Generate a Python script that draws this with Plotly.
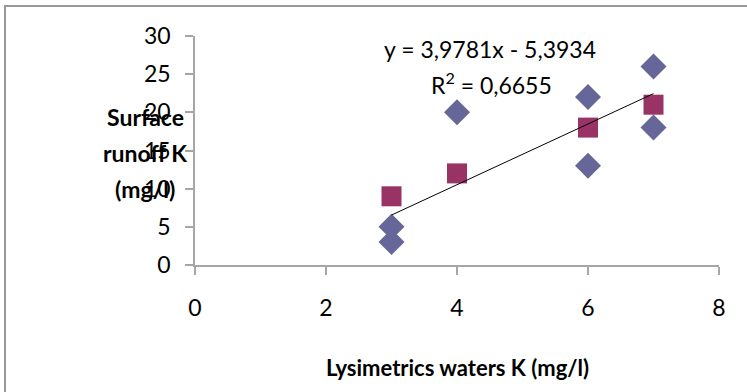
import plotly.graph_objects as go

# Data
diamond_x = [3, 3, 4, 6, 6, 7, 7]
diamond_y = [5, 3, 20, 22, 13, 26, 18]
square_x = [3, 4, 6, 7]
square_y = [9, 12, 18, 21]
slope = 3.9781
intercept = -5.3934
trend_x = [3, 7]
trend_y = [slope * x + intercept for x in trend_x]
x_ticks = [0, 2, 4, 6, 8]
y_ticks = [0, 5, 10, 15, 20, 25, 30]
y_title_lines = ["Surface", "runoff K", "(mg/l)"]

FONT = "Lato, Carlito, Calibri, sans-serif"

PL, PR, PT, PB = 195, 719, 36, 265.5
PW, PH = PR - PL, PB - PT

def px(x):
    return (x - PL) / PW

def py(y):
    return (PB - y) / PH

fig = go.Figure()
fig.add_trace(go.Scatter(x=diamond_x, y=diamond_y, mode="markers",
                         marker=dict(symbol="diamond", size=20, color="#666699"),
                         showlegend=False, cliponaxis=False))
fig.add_trace(go.Scatter(x=square_x, y=square_y, mode="markers",
                         marker=dict(symbol="square", size=20, color="#993366"),
                         showlegend=False, cliponaxis=False))
fig.add_trace(go.Scatter(x=trend_x, y=trend_y, mode="lines",
                         line=dict(color="black", width=1),
                         showlegend=False))

fig.update_layout(
    width=747, height=392,
    margin=dict(l=PL, r=747 - PR, t=PT, b=392 - PB),
    paper_bgcolor="white", plot_bgcolor="white",
    font=dict(family=FONT, size=22, color="black"),
    xaxis=dict(range=[0, 8], tickvals=x_ticks, showgrid=False, zeroline=False,
               showline=True, linecolor="#a6a6a6", linewidth=1.5,
               ticks="outside", ticklen=8, tickcolor="#a6a6a6", tickwidth=1.5,
               ticklabelstandoff=14,
               tickfont=dict(size=23)),
    yaxis=dict(range=[0, 30], tickvals=y_ticks, showgrid=False, zeroline=False,
               showline=True, linecolor="#a6a6a6", linewidth=1.5,
               ticks="outside", ticklen=8, tickcolor="#a6a6a6", tickwidth=1.5,
               ticklabelstandoff=10,
               tickfont=dict(size=23)),
)

# outer chart border
fig.add_shape(type="rect", xref="paper", yref="paper",
              x0=px(5), x1=px(800), y0=py(450), y1=py(6),
              line=dict(color="#999999", width=2), layer="below")

for i, line in enumerate(y_title_lines):
    fig.add_annotation(text=f"<b>{line}</b>", xref="paper", yref="paper",
                       x=px(145), y=py(117 + 36 * i), showarrow=False,
                       xanchor="center", yanchor="middle",
                       font=dict(size=23), align="center")
fig.add_annotation(text="<b>Lysimetrics waters K (mg/l)</b>", xref="paper", yref="paper",
                   x=px(457), y=py(368), showarrow=False,
                   xanchor="center", yanchor="middle", font=dict(size=22))
fig.add_annotation(text=f"y = {slope:.4f}x - {abs(intercept):.4f}".replace(".", ","),
                   xref="paper", yref="paper", x=px(490), y=py(49),
                   xanchor="center", yanchor="middle",
                   showarrow=False, font=dict(size=23))
fig.add_annotation(text="R<sup>2</sup> = 0,6655", xref="paper", yref="paper",
                   x=px(491), y=py(84),
                   xanchor="center", yanchor="middle",
                   showarrow=False, font=dict(size=23))

fig.write_html("out.html")
